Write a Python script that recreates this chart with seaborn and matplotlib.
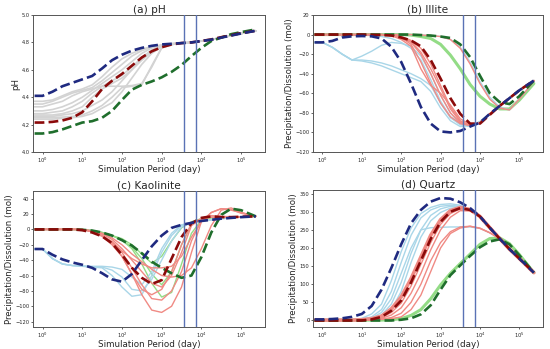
import numpy as np
import pandas as pd
import matplotlib
matplotlib.use("Agg")
import matplotlib.pyplot as plt
import seaborn as sns

# ---------------- data ----------------
LOG_T = [-0.2, 0, 0.25, 0.5, 0.75, 1.0, 1.25, 1.5, 1.75, 2.0, 2.25, 2.5,
         2.75, 3.0, 3.25, 3.5, 3.75, 4.0, 4.25, 4.5, 4.75, 5.0, 5.37]
VLINES = [3650, 7300]

# (a) pH
ph_blue = [4.41, 4.41, 4.44, 4.48, 4.505, 4.53, 4.555, 4.61, 4.67, 4.71, 4.74, 4.76,
           4.775, 4.785, 4.79, 4.795, 4.80, 4.81, 4.82, 4.835, 4.85, 4.865, 4.885]
ph_red = [4.215, 4.215, 4.22, 4.23, 4.25, 4.29, 4.37, 4.46, 4.52, 4.57, 4.63, 4.69,
          4.735, 4.765, 4.785, 4.795, 4.80, 4.81, 4.822, 4.838, 4.852, 4.868, 4.885]
ph_green = [4.135, 4.135, 4.145, 4.165, 4.19, 4.215, 4.225, 4.25, 4.30, 4.38, 4.455, 4.49,
            4.515, 4.545, 4.585, 4.635, 4.70, 4.76, 4.81, 4.835, 4.86, 4.875, 4.895]
ph_grey = [
    [4.37, 4.37, 4.38, 4.41, 4.44, 4.46, 4.49, 4.55, 4.62, 4.68, 4.72, 4.75, 4.77, 4.78, 4.79, 4.795, 4.80, 4.81, 4.82, 4.835, 4.85, 4.865, 4.885],
    [4.35, 4.35, 4.37, 4.40, 4.43, 4.45, 4.47, 4.52, 4.58, 4.64, 4.70, 4.74, 4.765, 4.78, 4.79, 4.795, 4.80, 4.81, 4.82, 4.835, 4.85, 4.865, 4.885],
    [4.33, 4.33, 4.35, 4.37, 4.41, 4.44, 4.46, 4.48, 4.48, 4.48, 4.485, 4.50, 4.62, 4.76, 4.785, 4.795, 4.80, 4.81, 4.82, 4.835, 4.85, 4.865, 4.885],
    [4.30, 4.30, 4.31, 4.33, 4.36, 4.40, 4.45, 4.50, 4.55, 4.60, 4.66, 4.72, 4.76, 4.78, 4.79, 4.795, 4.80, 4.81, 4.82, 4.835, 4.85, 4.865, 4.885],
    [4.28, 4.28, 4.29, 4.30, 4.33, 4.37, 4.43, 4.48, 4.52, 4.56, 4.62, 4.69, 4.745, 4.775, 4.79, 4.795, 4.80, 4.81, 4.82, 4.835, 4.85, 4.865, 4.885],
    [4.27, 4.27, 4.27, 4.28, 4.30, 4.33, 4.40, 4.46, 4.50, 4.54, 4.60, 4.67, 4.73, 4.77, 4.785, 4.795, 4.80, 4.81, 4.82, 4.835, 4.85, 4.865, 4.885],
    [4.26, 4.26, 4.26, 4.27, 4.28, 4.30, 4.34, 4.38, 4.44, 4.52, 4.60, 4.68, 4.74, 4.77, 4.785, 4.795, 4.80, 4.81, 4.82, 4.835, 4.85, 4.865, 4.885],
    [4.25, 4.25, 4.25, 4.255, 4.26, 4.27, 4.30, 4.34, 4.40, 4.47, 4.48, 4.49, 4.63, 4.76, 4.785, 4.795, 4.80, 4.81, 4.82, 4.835, 4.85, 4.865, 4.885],
    [4.24, 4.24, 4.24, 4.245, 4.25, 4.26, 4.28, 4.32, 4.36, 4.44, 4.54, 4.64, 4.72, 4.77, 4.785, 4.795, 4.80, 4.81, 4.82, 4.835, 4.85, 4.865, 4.885],
]

# (b) Illite
il_blue = [-8, -8, -6.5, -3, -1.8, -1.5, -1.8, -4, -12.5, -28, -50, -74, -91, -99, -100, -98.5, -94, -90, -81, -73, -65, -57, -47]
il_red = [0, 0, 0, 0, 0, 0, -0.3, -0.5, -1, -3, -6, -12, -26, -45, -65, -81, -91, -91, -82, -73, -65, -57, -47]
il_green = [0, 0, 0, 0, 0, 0, 0, 0, 0, 0, 0, -0.5, -1, -2, -3.5, -10, -23, -42, -60, -69, -71, -63, -47]
il_lgreen = [[0, 0, 0, 0, 0, 0, 0, 0, 0, 0, -0.5, -2, -4, -10, -21, -35, -51, -63, -71, -76, -76, -67, -50]]
il_lblue = [
    [-8, -8, -13, -20, -26, -22, -17, -11, -8, -9, -12, -22, -40, -62, -80, -92, -94, -90, -81, -73, -65, -57, -47],
    [-8, -8, -13, -20, -26, -27, -29, -32, -36, -40, -44, -48, -58, -75, -88, -94, -93, -89, -81, -73, -65, -57, -47],
    [-8, -8, -13, -20, -26, -26, -27, -29, -32, -36, -40, -45, -52, -70, -85, -92, -93, -89, -81, -73, -65, -57, -47],
    [0, 0, 0, 0, 0, 0, -1, -2, -4, -8, -14, -26, -46, -68, -84, -92, -93, -89, -81, -73, -65, -57, -47],
    [0, 0, 0, 0, 0, 0, 0, 0, 0, 0, 0, -0.5, -1, -2, -5, -13, -28, -48, -64, -74, -77, -66, -48],
]
il_lred = [
    [0, 0, 0, 0, 0, 0, 0, 0, -1, -3, -10, -28, -50, -70, -84, -91, -93, -90, -81, -73, -65, -57, -47],
    [0, 0, 0, 0, 0, 0, 0, 0, -1, -4, -8, -20, -40, -62, -80, -90, -93, -90, -81, -73, -65, -57, -47],
    [0, 0, 0, 0, 0, 0, 0, 0, -1, -5, -12, -35, -52, -60, -72, -86, -92, -90, -81, -73, -65, -57, -47],
    [0, 0, 0, 0, 0, 0, 0, 0, -0.5, -2, -6, -14, -30, -52, -74, -88, -93, -90, -81, -73, -65, -57, -47],
    [0, 0, 0, 0, 0, 0, 0, 0, -1, -3, -7, -18, -35, -55, -76, -89, -93, -90, -81, -73, -65, -57, -47],
    [0, 0, 0, 0, 0, 0, 0, 0, 0, 0, 0, -0.5, -1, -2, -5, -14, -30, -50, -66, -75, -77, -66, -48],
]

# (c) Kaolinite
ka_blue = [-25.5, -25.5, -33, -39, -43, -46, -50, -57, -65, -68, -58, -40, -22, -8, 2, 6, 8.5, 11, 12.5, 14, 15, 16, 17]
ka_red = [0, 0, 0, 0, 0, -1, -4, -9, -18, -33, -50, -63, -71, -66, -38, -10, 8, 15, 17, 16, 16, 16.5, 17]
ka_green = [0, 0, 0, 0, 0, -0.5, -1.5, -4, -8, -14, -21, -31, -42, -50, -57, -63, -60, -36, -4, 19, 27, 25, 17]
ka_lgreen = [
    [0, 0, 0, 0, 0, -0.5, -1.5, -4, -8, -14, -25, -45, -70, -88, -82, -45, -5, 12, 15, 15.5, 16, 16.5, 17],
    [0, 0, 0, 0, 0, -0.5, -1.5, -4, -8, -12, -20, -32, -44, -35, -15, 2, 10, 14, 15.5, 16, 16, 16.5, 17],
    [0, 0, 0, 0, 0, -0.5, -1.5, -4, -8, -14, -23, -38, -58, -72, -55, -20, 6, 13, 15.5, 16, 16, 16.5, 17],
]
ka_lblue = [
    [-25.5, -25.5, -38, -45, -47, -47.5, -48, -48, -49, -52, -62, -72, -55, -25, -5, 6, 9, 11, 12.5, 14, 15, 16, 17],
    [-25.5, -25.5, -38, -45, -47, -48, -49, -50, -60, -75, -87, -85, -60, -30, -8, 5, 9, 11, 12.5, 14, 15, 16, 17],
    [-25.5, -25.5, -38, -45, -47, -48, -48.5, -49, -53, -62, -78, -80, -65, -40, -15, 3, 9, 11, 12.5, 14, 15, 16, 17],
]
ka_lred = [
    [0, 0, 0, 0, 0, 0, -3, -8, -18, -35, -58, -85, -105, -108, -100, -75, -30, 10, 22, 27, 25, 22, 17],
    [0, 0, 0, 0, 0, 0, -3, -8, -16, -30, -50, -72, -90, -92, -80, -55, -15, 12, 18, 17, 16.5, 16.5, 17],
    [0, 0, 0, 0, 0, 0, -2, -6, -13, -25, -40, -55, -70, -75, -60, -30, 5, 14, 16, 16, 16.5, 16.5, 17],
    [0, 0, 0, 0, 0, 0, -3, -8, -16, -28, -38, -45, -50, -50, -48, -35, -10, 10, 22, 27, 26, 21, 17],
    [0, 0, 0, 0, 0, 0, -3, -9, -20, -35, -58, -78, -85, -78, -55, -20, 8, 14, 16, 16, 16.5, 16.5, 17],
    [0, 0, 0, 0, 0, 0, -2, -5, -11, -20, -32, -42, -52, -60, -62, -60, -50, -25, 5, 25, 28, 22, 17],
]

# (d) Quartz
qz_blue = [3, 3, 4, 6, 10, 18, 40, 85, 145, 210, 268, 305, 328, 338, 336, 326, 310, 287, 256, 226, 197, 171, 132]
qz_red = [0, 0, 0, 0, 0, 0, 3, 10, 27, 55, 105, 165, 225, 272, 300, 310, 305, 287, 256, 226, 197, 171, 132]
qz_green = [0, 0, 0, 0, 0, 0, 0, 0, 0, 2, 6, 17, 42, 85, 125, 152, 178, 202, 218, 224, 210, 180, 132]
qz_lgreen = [[1, 1, 1, 1, 1, 1, 1, 1, 2, 5, 14, 30, 60, 98, 130, 157, 183, 210, 226, 228, 212, 182, 132]]
qz_lblue = [
    [2, 2, 2, 2, 2, 6, 18, 45, 110, 190, 255, 295, 312, 320, 322, 318, 306, 287, 256, 226, 197, 171, 132],
    [2, 2, 2, 2, 2, 4, 10, 30, 80, 160, 235, 283, 305, 315, 318, 315, 305, 287, 256, 226, 197, 171, 132],
    [2, 2, 2, 2, 2, 3, 7, 22, 60, 130, 200, 250, 256, 257, 258, 258, 258, 254, 242, 226, 197, 171, 132],
    [1, 1, 1, 1, 1, 2, 5, 15, 45, 105, 185, 250, 290, 308, 315, 314, 305, 287, 256, 226, 197, 171, 132],
    [1, 1, 1, 1, 1, 2, 4, 10, 30, 80, 160, 230, 275, 298, 310, 312, 304, 287, 256, 226, 197, 171, 132],
]
qz_lred = [
    [1, 1, 1, 1, 1, 2, 5, 12, 32, 65, 115, 175, 235, 278, 303, 312, 306, 287, 256, 226, 197, 171, 132],
    [1, 1, 1, 1, 1, 2, 4, 8, 22, 48, 95, 155, 215, 265, 295, 308, 304, 287, 256, 226, 197, 171, 132],
    [1, 1, 1, 1, 1, 1, 3, 6, 15, 35, 75, 130, 195, 250, 285, 303, 302, 287, 256, 226, 197, 171, 132],
    [1, 1, 1, 1, 1, 1, 2, 4, 8, 20, 50, 100, 165, 215, 245, 258, 260, 255, 242, 226, 197, 171, 132],
    [1, 1, 1, 1, 1, 1, 2, 3, 5, 10, 30, 70, 135, 200, 240, 255, 260, 254, 242, 226, 197, 171, 132],
]

TITLES = ["(a) pH", "(b) Illite", "(c) Kaolinite", "(d) Quartz"]
YLABELS = ["pH", "Precipitation/Dissolution (mol)",
           "Precipitation/Dissolution (mol)", "Precipitation/Dissolution (mol)"]
YLIMS = [(4.0, 5.0), (-120, 20), (-127, 50), (-18, 360)]
YTICKS = [[4.0, 4.2, 4.4, 4.6, 4.8, 5.0],
          [-120, -100, -80, -60, -40, -20, 0, 20],
          [-120, -100, -80, -60, -40, -20, 0, 20, 40],
          [0, 50, 100, 150, 200, 250, 300, 350]]

# ---------------- styling ----------------
sns.set_style("white")
plt.rcParams['font.family'] = ['DejaVu Sans']

C_GREY = "#d3d3d3"
C_LBLUE = "#a9d6e8"
C_LRED = "#f08a84"
C_LGREEN = "#93dc86"
C_NAVY = "#1f2a80"
C_DRED = "#8b0a0a"
C_DGREEN = "#1f6e2c"
C_VLINE = "#5a72b5"

days = 10 ** np.array(LOG_T)

fig = plt.figure(figsize=(5.5, 3.49), dpi=100)
rects = [
    [33 / 550, 1 - 152 / 349, 232 / 550, 137 / 349],
    [313 / 550, 1 - 152 / 349, 230 / 550, 137 / 349],
    [33 / 550, 1 - 327 / 349, 232 / 550, 136 / 349],
    [313 / 550, 1 - 327 / 349, 230 / 550, 137 / 349],
]
axes = [fig.add_axes(r) for r in rects]


def draw(ax, y, color, lw, ls="-", z=2, alpha=1.0):
    df = pd.DataFrame({"t": days, "v": y})
    sns.lineplot(data=df, x="t", y="v", ax=ax, color=color, lw=lw,
                 linestyle=ls, zorder=z, alpha=alpha, estimator=None, sort=False)


panels = [
    dict(grey=ph_grey, lb=[], lr=[], lg=[], blue=ph_blue, red=ph_red, green=ph_green),
    dict(grey=[], lb=il_lblue, lr=il_lred, lg=il_lgreen, blue=il_blue, red=il_red, green=il_green),
    dict(grey=[], lb=ka_lblue, lr=ka_lred, lg=ka_lgreen, blue=ka_blue, red=ka_red, green=ka_green),
    dict(grey=[], lb=qz_lblue, lr=qz_lred, lg=qz_lgreen, blue=qz_blue, red=qz_red, green=qz_green),
]

for i, (ax, p) in enumerate(zip(axes, panels)):
    ax.set_xscale("log")
    for y in p["grey"]:
        draw(ax, y, C_GREY, 1.2)
    for k, y in enumerate(p["lg"]):
        draw(ax, y, C_LGREEN, 2.2 if (k == 0 and i in (1, 3)) else 1.0)
    for k, y in enumerate(p["lb"]):
        draw(ax, y, C_LBLUE, 1.0)
    for k, y in enumerate(p["lr"]):
        draw(ax, y, C_LRED, 2.6 if (k == 0 and i == 3) else 1.0)
    draw(ax, p["green"], C_DGREEN, 1.9, "--", z=4)
    draw(ax, p["red"], C_DRED, 1.9, "--", z=4)
    draw(ax, p["blue"], C_NAVY, 1.9, "--", z=5)
    for v in VLINES:
        ax.axvline(v, color=C_VLINE, lw=1.0, zorder=6)
    ax.set_xlim(0.575, 4.0e5)
    ax.set_ylim(*YLIMS[i])
    ax.set_yticks(YTICKS[i])
    if i == 0:
        ax.set_yticklabels([f"{t:.1f}" for t in YTICKS[i]])
    ax.set_xticks([1, 10, 100, 1000, 1e4, 1e5])
    ax.set_title(TITLES[i], fontsize=7.6, pad=1.5)
    ax.set_xlabel("Simulation Period (day)", fontsize=6.3, labelpad=0.5)
    ax.set_ylabel(YLABELS[i], fontsize=6.2, labelpad=1)
    ax.tick_params(axis="both", which="major", labelsize=3.7, length=1.5, width=0.5,
                   pad=1, direction="out", bottom=True, left=True)
    ax.tick_params(axis="x", which="minor", length=0.8, width=0.3, bottom=True)
    for s in ax.spines.values():
        s.set_color("#555555")
        s.set_linewidth(0.7)

fig.savefig("out.png", dpi=100)
